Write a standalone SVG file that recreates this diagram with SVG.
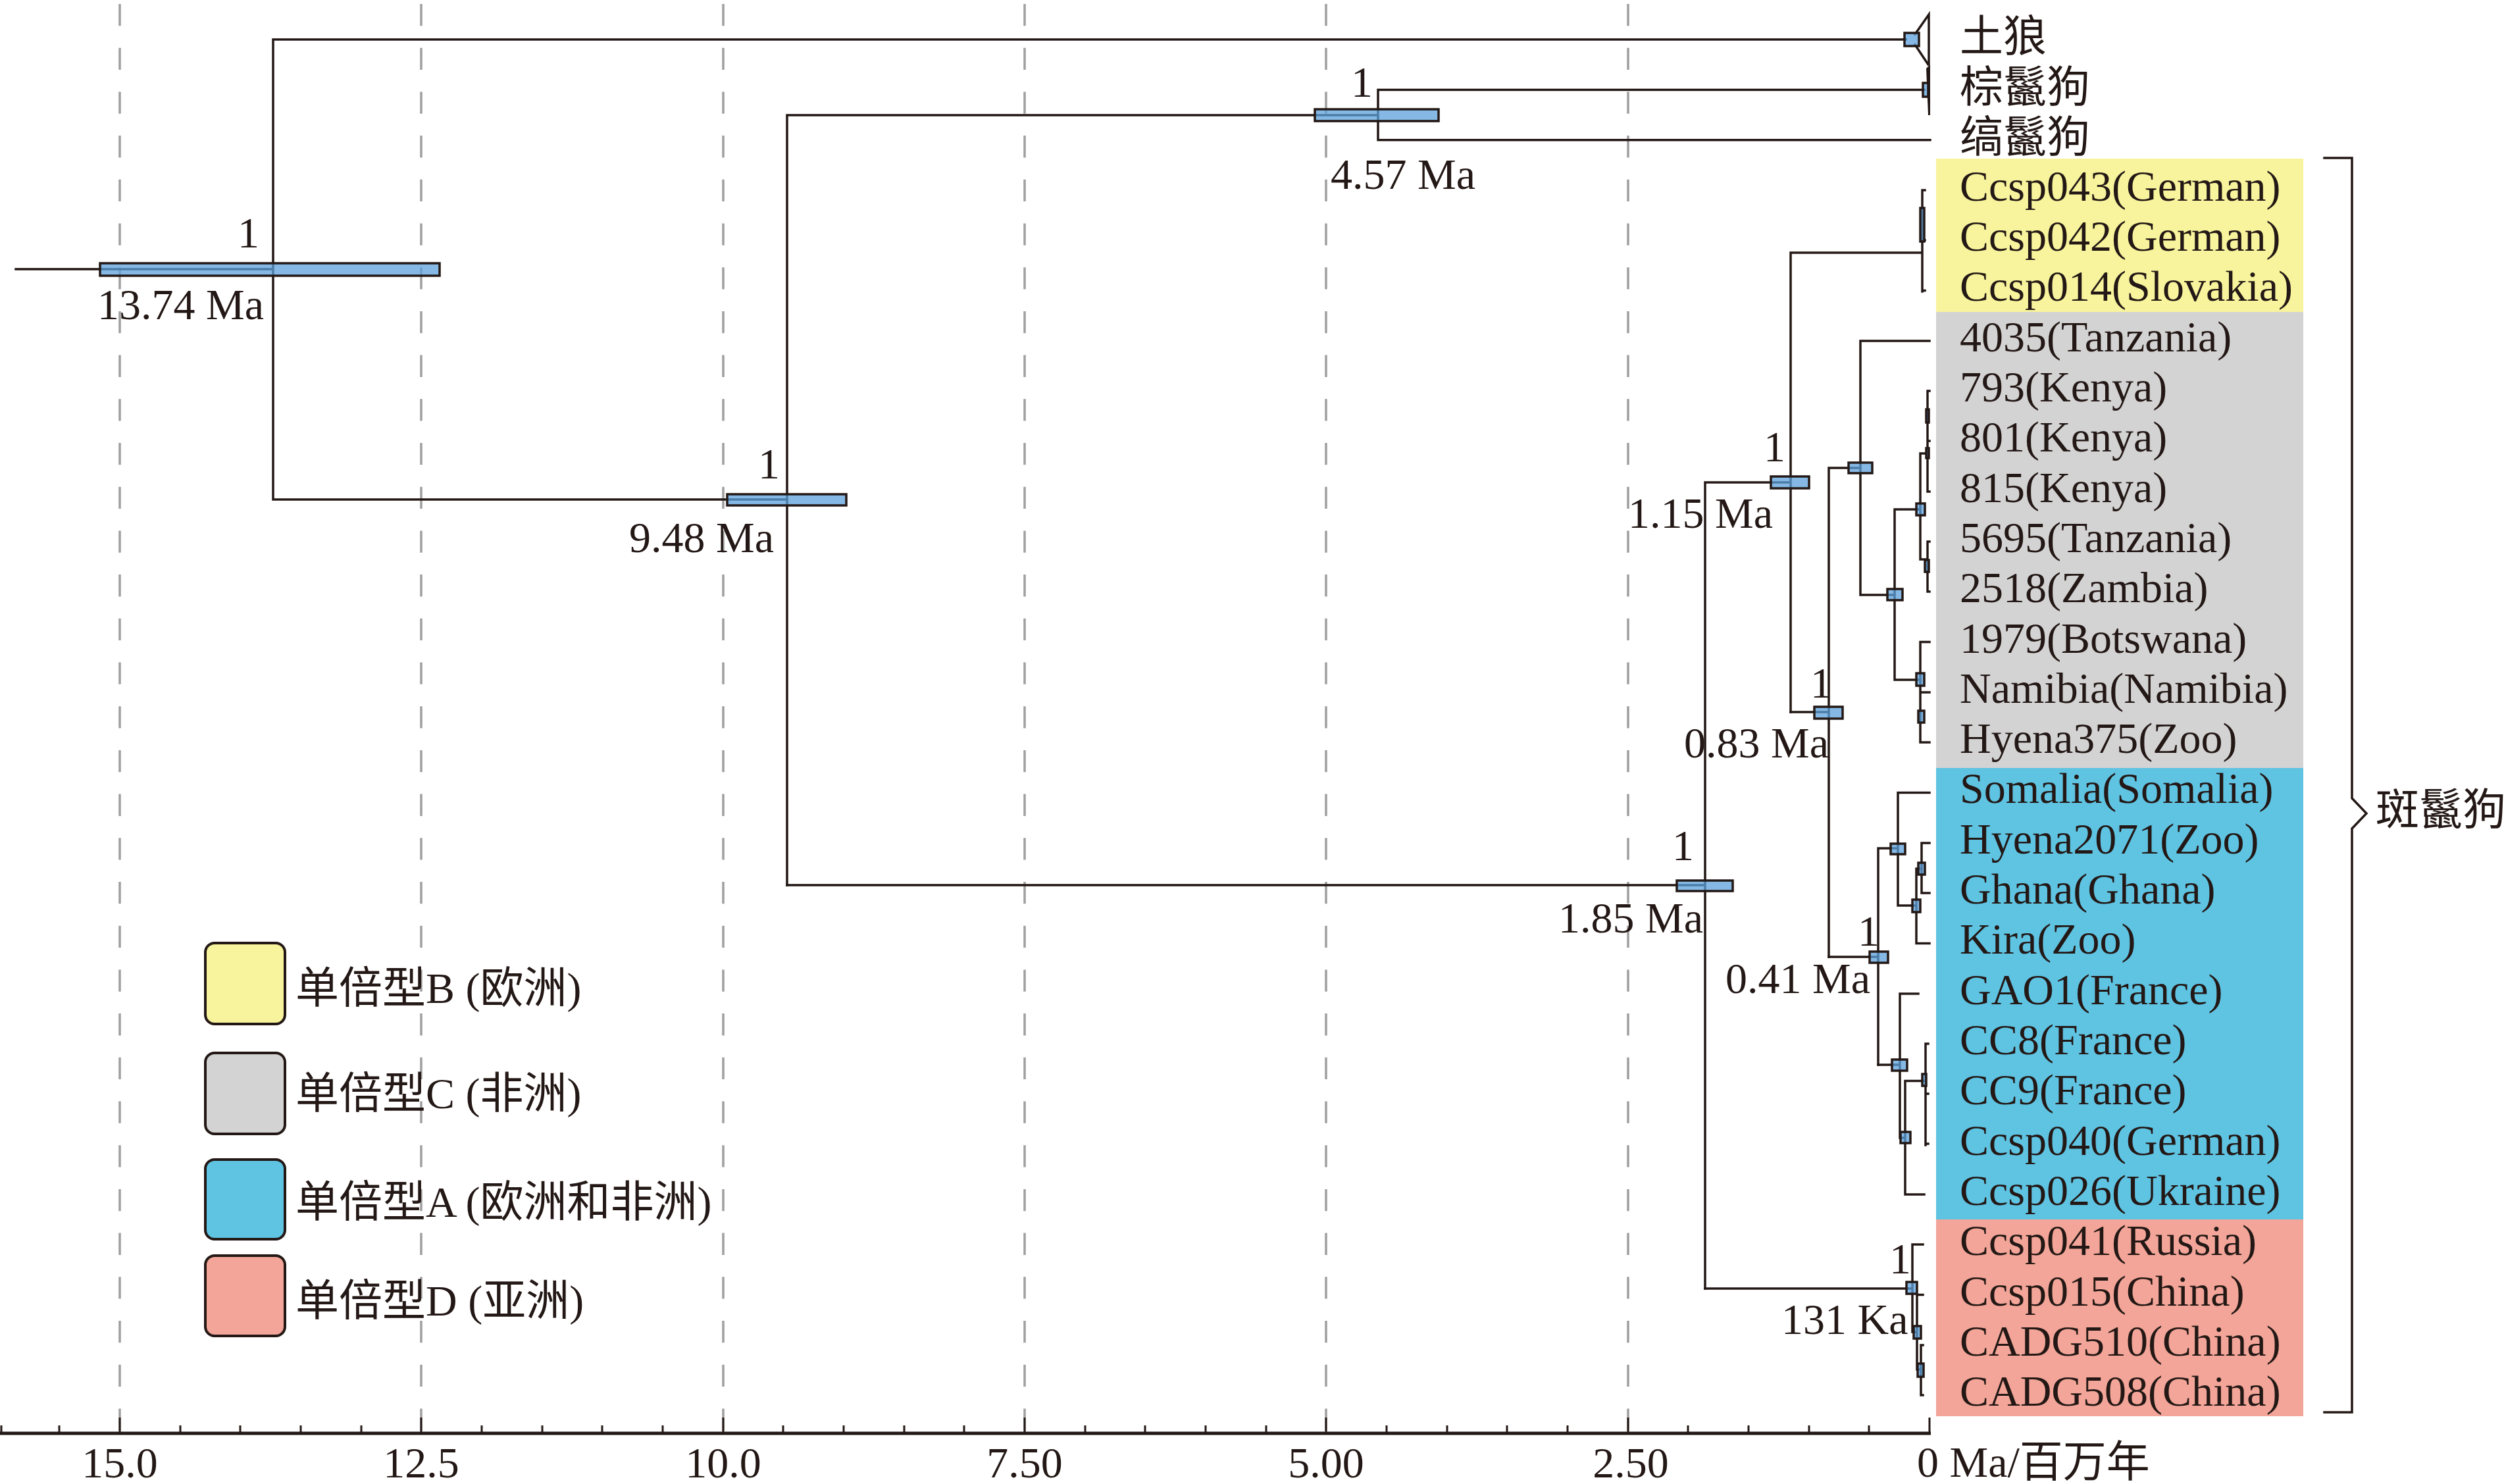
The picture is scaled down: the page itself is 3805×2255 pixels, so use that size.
<svg xmlns="http://www.w3.org/2000/svg" width="3805" height="2255" viewBox="0 0 3805 2255">
<style>
text{font-family:'Liberation Serif','Noto Sans CJK SC',serif;font-size:66px;fill:#231815}
.ln{fill:none;stroke:#231815;stroke-width:3.5;stroke-linecap:square}
.grid{fill:none;stroke:#9f9f9f;stroke-width:3.5;stroke-dasharray:33.3 33.4}
.bar{fill:#5ca0db;fill-opacity:0.75;stroke:#231815;stroke-width:3.5}
.tk{stroke:#231815;stroke-width:3}
.lg{stroke:#231815;stroke-width:4}
.mid{text-anchor:middle}
</style>
<rect width="3805" height="2255" fill="#ffffff"/>
<g id="haplotype-boxes">
<rect x="2942" y="241" width="558" height="233" fill="#f7f49d"/>
<rect x="2942" y="474" width="558" height="693" fill="#d3d3d3"/>
<rect x="2942" y="1167" width="558" height="686" fill="#5fc3e2"/>
<rect x="2942" y="1853" width="558" height="299" fill="#f2a598"/>
</g>
<g id="grid">
<line class="grid" x1="182" y1="6" x2="182" y2="2176"/>
<line class="grid" x1="640" y1="6" x2="640" y2="2176"/>
<line class="grid" x1="1099" y1="6" x2="1099" y2="2176"/>
<line class="grid" x1="1557" y1="6" x2="1557" y2="2176"/>
<line class="grid" x1="2015" y1="6" x2="2015" y2="2176"/>
<line class="grid" x1="2474" y1="6" x2="2474" y2="2176"/>
</g>
<g id="axis">
<line x1="0" y1="2178" x2="2934" y2="2178" stroke="#231815" stroke-width="5"/>
<path class="tk" d="M182,2154V2178M640,2154V2178M1099,2154V2178M1557,2154V2178M2015,2154V2178M2474,2154V2178M2932,2154V2178"/>
<path class="tk" d="M2,2166V2178M90,2166V2178M274,2166V2178M365,2166V2178M457,2166V2178M549,2166V2178M732,2166V2178M824,2166V2178M915,2166V2178M1007,2166V2178M1190,2166V2178M1282,2166V2178M1374,2166V2178M1465,2166V2178M1649,2166V2178M1740,2166V2178M1832,2166V2178M1924,2166V2178M2107,2166V2178M2199,2166V2178M2290,2166V2178M2382,2166V2178M2565,2166V2178M2657,2166V2178M2749,2166V2178M2840,2166V2178"/>
<text class="mid" x="182" y="2245">15.0</text>
<text class="mid" x="640" y="2245">12.5</text>
<text class="mid" x="1099" y="2245">10.0</text>
<text class="mid" x="1557" y="2245">7.50</text>
<text class="mid" x="2015" y="2245">5.00</text>
<text class="mid" x="2478" y="2245">2.50</text>
<text x="2913" y="2244">0 Ma/百万年</text>
</g>
<g id="connectors">
<path class="ln" d="M24,409H415M415,60V759M415,60H2896M415,759H1196"/>
<path class="ln" d="M1196,175V1345M1196,175H2094M2094,136.5V212.7M2094,136.5H2924M2094,212.7H2933"/>
<path class="ln" d="M1196,1345H2591M2591,733V1958M2591,733H2721M2721,384V1082M2721,384H2920M2921,289V443M2921,289H2925M2921,365H2925M2921,441.5H2925"/>
<path class="ln" d="M2721,1082H2779M2779,711V1454M2779,711H2827M2827,518V904M2827,518H2932M2827,904H2879M2879,774V1033M2879,774H2918M2918,689V850M2918,689H2929M2929,594V747M2929,594H2932M2929,670H2932M2929,747H2932M2918,850H2929M2929,823V899M2929,823H2932M2929,899H2932M2879,1033H2918M2918,975.6V1128M2918,975.6H2932M2918,1052H2932M2918,1128H2932"/>
<path class="ln" d="M2779,1454H2854M2854,1289V1618M2854,1289H2884M2884,1204.5V1376M2884,1204.5H2932M2884,1376H2912M2912,1320V1433.4M2912,1433.4H2932M2912,1320H2920M2920,1281V1357M2920,1281H2932M2920,1357H2932"/>
<path class="ln" d="M2854,1618H2887M2887,1510V1729M2887,1510H2915M2887,1729H2895M2895,1642.5V1815M2895,1815H2924M2895,1642.5H2926M2926,1586V1740M2926,1586H2930M2926,1662H2930M2926,1738H2930"/>
<path class="ln" d="M2591,1958H2906M2906,1891V2024M2906,1891H2922M2906,2024H2913M2913,1967.5V2081M2913,1967.5H2922M2913,2081H2919M2919,2044V2120M2919,2044H2922M2919,2120H2922"/>
<path class="ln" d="M2910,52L2931,22V98M2910,68L2930,98"/>
<polygon points="2927,104 2933,98 2933,175 2930,175" fill="#231815"/>
</g>
<g id="node-root">
<rect class="bar" x="152" y="400" width="516" height="19"/>
<text x="361" y="376">1</text>
<text x="148" y="485">13.74 Ma</text>
</g>
<g id="node-9-48">
<rect class="bar" x="1105" y="751" width="181" height="17"/>
<text x="1152" y="727">1</text>
<text x="956" y="839">9.48 Ma</text>
</g>
<g id="node-4-57">
<rect class="bar" x="1998" y="166" width="188" height="18"/>
<text x="2053" y="147">1</text>
<text x="2022" y="287">4.57 Ma</text>
</g>
<g id="node-1-85">
<rect class="bar" x="2548" y="1338" width="85" height="16"/>
<text x="2541" y="1307">1</text>
<text x="2368" y="1417">1.85 Ma</text>
</g>
<g id="node-1-15">
<rect class="bar" x="2691" y="724" width="58" height="18"/>
<text x="2680" y="701">1</text>
<text x="2474" y="802">1.15 Ma</text>
</g>
<g id="node-0-83">
<rect class="bar" x="2757" y="1074" width="43" height="18"/>
<text x="2751" y="1060">1</text>
<text x="2559" y="1151">0.83 Ma</text>
</g>
<g id="node-0-41">
<rect class="bar" x="2841" y="1446" width="28" height="17"/>
<text x="2823" y="1437">1</text>
<text x="2622" y="1509">0.41 Ma</text>
</g>
<g id="node-131ka">
<rect class="bar" x="2897" y="1948" width="16" height="18"/>
<text x="2871" y="1935">1</text>
<text x="2707" y="2027">131 Ka</text>
</g>
<g id="node-minor">
<rect class="bar" x="2809" y="703" width="36" height="16"/>
<rect class="bar" x="2868" y="895" width="23" height="17"/>
<rect class="bar" x="2912" y="765" width="13" height="18"/>
<rect class="bar" x="2925" y="851" width="6" height="18"/>
<rect class="bar" x="2927" y="622" width="4" height="20"/>
<rect class="bar" x="2927" y="681" width="4" height="15"/>
<rect class="bar" x="2912" y="1023" width="12" height="19"/>
<rect class="bar" x="2915" y="1080" width="9" height="18"/>
<rect class="bar" x="2873" y="1282" width="22" height="16"/>
<rect class="bar" x="2906" y="1367" width="12" height="19"/>
<rect class="bar" x="2915" y="1311" width="10" height="18"/>
<rect class="bar" x="2875" y="1610" width="23" height="17"/>
<rect class="bar" x="2888" y="1720" width="15" height="17"/>
<rect class="bar" x="2921" y="1632" width="6" height="18"/>
<rect class="bar" x="2908" y="2015" width="11" height="19"/>
<rect class="bar" x="2914" y="2072" width="9" height="20"/>
<rect class="bar" x="2918" y="316" width="6" height="51"/>
<rect class="bar" x="2894" y="50" width="22" height="20"/>
<rect class="bar" x="2922" y="126" width="8" height="21"/>
</g>
<g id="leaves">
<text x="2978" y="78">土狼</text>
<text x="2978" y="155">棕鬣狗</text>
<text x="2978" y="231">缟鬣狗</text>
<text x="2978" y="305">Ccsp043(German)</text>
<text x="2978" y="381">Ccsp042(German)</text>
<text x="2978" y="457">Ccsp014(Slovakia)</text>
<text x="2978" y="534">4035(Tanzania)</text>
<text x="2978" y="610">793(Kenya)</text>
<text x="2978" y="686">801(Kenya)</text>
<text x="2978" y="763">815(Kenya)</text>
<text x="2978" y="839">5695(Tanzania)</text>
<text x="2978" y="915">2518(Zambia)</text>
<text x="2978" y="992">1979(Botswana)</text>
<text x="2978" y="1068">Namibia(Namibia)</text>
<text x="2978" y="1144">Hyena375(Zoo)</text>
<text x="2978" y="1220">Somalia(Somalia)</text>
<text x="2978" y="1297">Hyena2071(Zoo)</text>
<text x="2978" y="1373">Ghana(Ghana)</text>
<text x="2978" y="1449">Kira(Zoo)</text>
<text x="2978" y="1526">GAO1(France)</text>
<text x="2978" y="1602">CC8(France)</text>
<text x="2978" y="1678">CC9(France)</text>
<text x="2978" y="1755">Ccsp040(German)</text>
<text x="2978" y="1831">Ccsp026(Ukraine)</text>
<text x="2978" y="1907">Ccsp041(Russia)</text>
<text x="2978" y="1984">Ccsp015(China)</text>
<text x="2978" y="2060">CADG510(China)</text>
<text x="2978" y="2136">CADG508(China)</text>
</g>
<g id="bracket">
<path class="ln" d="M3532,240H3574V1213L3596,1236L3574,1259V2146H3532" stroke-linecap="butt"/>
<text x="3610" y="1253">斑鬣狗</text>
</g>
<g id="legend">
<rect class="lg" x="312" y="1433" width="121" height="123" rx="14" fill="#f7f49d"/>
<rect class="lg" x="312" y="1600" width="121" height="123" rx="14" fill="#d3d3d3"/>
<rect class="lg" x="312" y="1762" width="121" height="121" rx="14" fill="#5fc3e2"/>
<rect class="lg" x="312" y="1908" width="121" height="122" rx="14" fill="#f2a598"/>
<text x="449" y="1524">单倍型B (欧洲)</text>
<text x="449" y="1684">单倍型C (非洲)</text>
<text x="449" y="1849">单倍型A (欧洲和非洲)</text>
<text x="449" y="1999">单倍型D (亚洲)</text>
</g>
</svg>
